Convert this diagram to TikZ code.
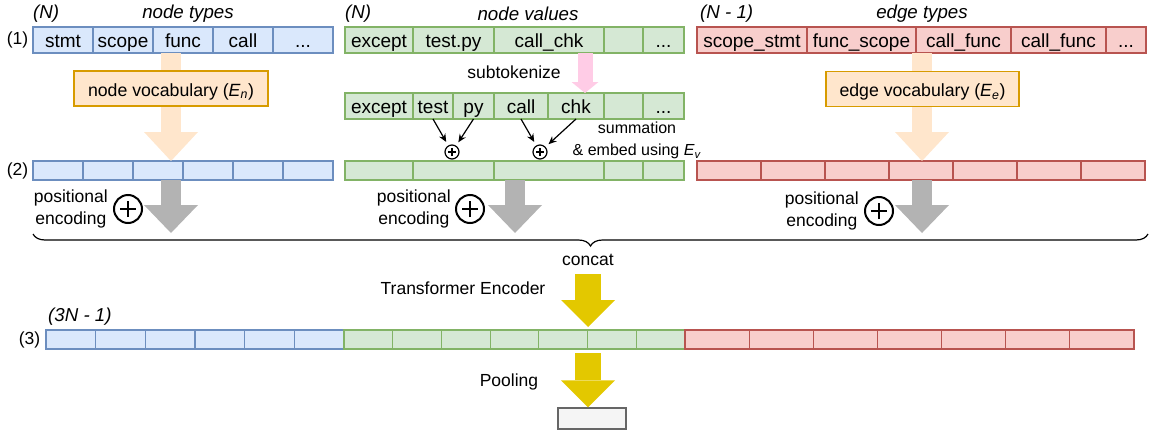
\documentclass[tikz,border=0pt]{standalone}
\usepackage{fontspec}
\setmainfont{Liberation Sans}
\usetikzlibrary{arrows.meta}
\usetikzlibrary{decorations.pathreplacing}
\usetikzlibrary{positioning}

\definecolor{typefill}{HTML}{DAE8FC}
\definecolor{typeline}{HTML}{6C8EBF}
\definecolor{valfill}{HTML}{D5E8D4}
\definecolor{valline}{HTML}{82B366}
\definecolor{edgefill}{HTML}{F8CECC}
\definecolor{edgeline}{HTML}{B85450}
\definecolor{vocabfill}{HTML}{FFE6CC}
\definecolor{vocabline}{HTML}{D79B00}
\definecolor{posgray}{HTML}{B3B3B3}
\definecolor{subpink}{HTML}{FFCCE6}
\definecolor{encyellow}{HTML}{E3C800}
\definecolor{poolfill}{HTML}{F5F5F5}
\definecolor{poolline}{HTML}{666666}

\begin{document}
\begin{tikzpicture}[x=1pt, y=-1pt,
    font=\fontsize{17.5}{22}\selectfont,
    node distance=0pt and 0pt,
    cell/.style={shape=rectangle, draw, line width=1.2pt,
      inner sep=0pt, outer sep=0pt,
      font=\fontsize{19}{22}\selectfont,
      text height=15pt, text depth=0pt},
    tallcell/.style={cell, minimum height=26pt},
    flatcell/.style={cell, minimum height=19pt},
    ntype/.style={fill=typefill, draw=typeline},
    nval/.style={fill=valfill, draw=valline},
    etype/.style={fill=edgefill, draw=edgeline},
    vocab/.style={shape=rectangle, draw=vocabline, fill=vocabfill,
      line width=1.2pt, minimum height=35pt, inner sep=0pt,
      font=\fontsize{17.7}{22}\selectfont,
      text height=15pt, text depth=0pt},
    txt/.style={inner sep=0pt, align=center},
    headtext/.style={inner sep=0pt,
      font=\fontsize{18.7}{22}\selectfont\itshape},
    posadd/.style={shape=circle, draw, line width=2pt,
      minimum size=28pt, inner sep=0pt,
      path picture={
        \draw[line width=2pt] ([xshift=-8pt]path picture bounding box.center)
          -- ([xshift=8pt]path picture bounding box.center);
        \draw[line width=2pt] ([yshift=-8pt]path picture bounding box.center)
          -- ([yshift=8pt]path picture bounding box.center);}},
    sumadd/.style={shape=circle, draw, line width=1.2pt,
      minimum size=14pt, inner sep=0pt,
      path picture={
        \draw[line width=1.2pt] ([xshift=-4pt]path picture bounding box.center)
          -- ([xshift=4pt]path picture bounding box.center);
        \draw[line width=1.2pt] ([yshift=-4pt]path picture bounding box.center)
          -- ([yshift=4pt]path picture bounding box.center);}},
    sumarrow/.style={draw, line width=1.2pt, shorten >=4pt,
      -{Stealth[length=8pt, width=7pt]}},
    vocabarrow/.style={draw=vocabfill, line width=20pt,
      -{Triangle[width=54pt, length=29pt, line width=0pt]}},
    posarrow/.style={draw=posgray, line width=20pt,
      -{Triangle[width=54pt, length=28pt, line width=0pt]}},
    subarrow/.style={draw=subpink, line width=15pt,
      -{Triangle[width=27pt, length=11pt, line width=0pt]}},
    encarrow/.style={draw=encyellow, line width=26pt,
      -{Triangle[width=54pt, length=27pt, line width=0pt]}}]

    % columns of the big arrows
    \coordinate (colt) at (171,233);
    \coordinate (colv) at (515,233);
    \coordinate (cole) at (922,233);
    \coordinate (tok) at (585,0);
    \coordinate (brl) at (33,234);
    \coordinate (brr) at (1148,234);

    % headings
    \node[name=ntn, headtext, anchor=west] at (33,13.5) {(N)};
    \node[name=nth, headtext] at (188,13.5) {node types};
    \node[name=nvn, headtext, anchor=west] at (345,13.5) {(N)};
    \node[name=nvh, headtext] at (528,13.5) {node values};
    \node[name=etn, headtext, anchor=west] at (700,13.5) {(N - 1)};
    \node[name=eth, headtext] at (922,13.5) {edge types};

    \node[name=step1, txt] at (17.5,40) {(1)};
    \node[name=step2, txt] at (17.5,170.5) {(2)};
    \node[name=step3, txt] at (29.5,339.5) {(3)};

    % (1) node types
    \node[name=nt1, tallcell, ntype, minimum width=60pt, anchor=west] at (33,40) {stmt};
    \node[name=nt2, tallcell, ntype, minimum width=60pt, right=of nt1] {scope};
    \node[name=nt3, tallcell, ntype, minimum width=60pt, right=of nt2] {func};
    \node[name=nt4, tallcell, ntype, minimum width=60pt, right=of nt3] {call};
    \node[name=nt5, tallcell, ntype, minimum width=60pt, right=of nt4] {...};

    % (1) node values
    \node[name=nv1, tallcell, nval, minimum width=68pt, anchor=west] at (345,40) {except};
    \node[name=nv2, tallcell, nval, minimum width=81pt, right=of nv1] {test.py};
    \node[name=nv3, tallcell, nval, minimum width=110pt, right=of nv2] {call\_chk};
    \node[name=nv4, tallcell, nval, minimum width=39pt, right=of nv3] {};
    \node[name=nv5, tallcell, nval, minimum width=41pt, right=of nv4] {...};

    % (1) edge types
    \node[name=et1, tallcell, etype, minimum width=110pt, anchor=west] at (697,40) {scope\_stmt};
    \node[name=et2, tallcell, etype, minimum width=109pt, right=of et1] {func\_scope};
    \node[name=et3, tallcell, etype, minimum width=95pt, right=of et2] {call\_func};
    \node[name=et4, tallcell, etype, minimum width=95pt, right=of et3] {call\_func};
    \node[name=et5, tallcell, etype, minimum width=40pt, right=of et4] {...};

    % subtokens
    \node[name=sv1, tallcell, nval, minimum width=68pt, anchor=west] at (345,106) {except};
    \node[name=sv2, tallcell, nval, minimum width=40pt, right=of sv1] {test};
    \node[name=sv3, tallcell, nval, minimum width=41pt, right=of sv2] {py};
    \node[name=sv4, tallcell, nval, minimum width=54pt, right=of sv3] {call};
    \node[name=sv5, tallcell, nval, minimum width=56pt, right=of sv4] {chk};
    \node[name=sv6, tallcell, nval, minimum width=39pt, right=of sv5] {};
    \node[name=sv7, tallcell, nval, minimum width=41pt, right=of sv6] {...};

    \node[name=tokl, txt] at (514,72) {subtokenize};
    \path (tok |- nv4.south) edge[subarrow] (tok |- sv5.north);

    \node[name=sa1, sumadd] at (452,152) {};
    \node[name=sa2, sumadd] at (540,152) {};
    \path (sv2.south) edge[sumarrow] (sa1);
    \path (sv3.south) edge[sumarrow] (sa1);
    \path (sv4.south) edge[sumarrow] (sa2);
    \path (sv5.south) edge[sumarrow] (sa2);
    \node[name=suml, txt, font=\fontsize{16}{22}\selectfont] at (637,140.5)
      {summation\\\& embed using \textit{E}\textsubscript{\textit{v}}};

    % (2) embeddings
    \foreach \i in {1,...,6}
      \node[name=nt2-\i, flatcell, ntype, minimum width=50pt] at ({33+(\i-0.5)*50},170.5) {};
    \node[name=ev1, flatcell, nval, minimum width=68pt, anchor=west] at (345,170.5) {};
    \node[name=ev2, flatcell, nval, minimum width=81pt, right=of ev1] {};
    \node[name=ev3, flatcell, nval, minimum width=110pt, right=of ev2] {};
    \node[name=ev4, flatcell, nval, minimum width=39pt, right=of ev3] {};
    \node[name=ev5, flatcell, nval, minimum width=41pt, right=of ev4] {};
    \foreach \i in {1,...,7}
      \node[name=et2-\i, flatcell, etype, minimum width=64pt] at ({697+(\i-0.5)*64},170.5) {};

    \path (colt |- nt1.south) edge[vocabarrow] (colt |- nt2-1.north);
    \path (cole |- et1.south) edge[vocabarrow] (cole |- et2-1.north);
    \node[name=nvoc, vocab, minimum width=194pt] at (171,88.5)
      {node vocabulary (\textit{E}\textsubscript{\textit{n}})};
    \node[name=evoc, vocab, minimum width=193pt] at (922.5,89)
      {edge vocabulary (\textit{E}\textsubscript{\textit{e}})};

    % positional encoding
    \path (colt |- nt2-1.south) edge[posarrow] (colt);
    \path (colv |- ev1.south) edge[posarrow] (colv);
    \path (cole |- et2-1.south) edge[posarrow] (cole);
    \node[name=pt, posadd] at (128,209) {};
    \node[name=pv, posadd] at (470,209) {};
    \node[name=pe, posadd] at (879,211) {};
    \node[name=ptl, txt, left=5pt of pt] {positional\\encoding};
    \node[name=pvl, txt, left=4pt of pv] {positional\\encoding};
    \node[name=pel, txt, left=5pt of pe] {positional\\encoding};

    \draw[line width=1.2pt, decorate, decoration={brace, amplitude=12pt, mirror}] (brl) -- (brr);
    \node[name=concat, txt] at (588,260) {concat};

    % (3) sequence
    \node[name=seqn, headtext, anchor=west] at (48,317) {(3N - 1)};
    \foreach \i in {1,...,6}
      \node[name=s3t-\i, flatcell, ntype, minimum width=49.67pt] at ({46+(\i-0.5)*49.67},339.5) {};
    \foreach \i in {1,...,7}
      \node[name=s3v-\i, flatcell, nval, minimum width=48.71pt] at ({344+(\i-0.5)*48.71},339.5) {};
    \foreach \i in {1,...,7}
      \node[name=s3e-\i, flatcell, etype, minimum width=64.14pt] at ({685+(\i-0.5)*64.14},339.5) {};

    \coordinate (encin) at (588,274);
    \coordinate (encout) at (588,327);
    \coordinate (poolin) at (588,353);
    \node[name=encl, txt] at (463,288.5) {Transformer Encoder};
    \path (encin) edge[encarrow] (encout);

    \node[name=pool, shape=rectangle, draw=poolline, fill=poolfill, line width=1.2pt,
      minimum width=68pt, minimum height=21pt] at (592,418.5) {};
    \node[name=pooll, txt] at (509,382) {Pooling};
    \path (poolin) edge[encarrow] (poolin |- pool.north);

    \path [use as bounding box] (0,0) rectangle (1150,431);
\end{tikzpicture}
\end{document}
